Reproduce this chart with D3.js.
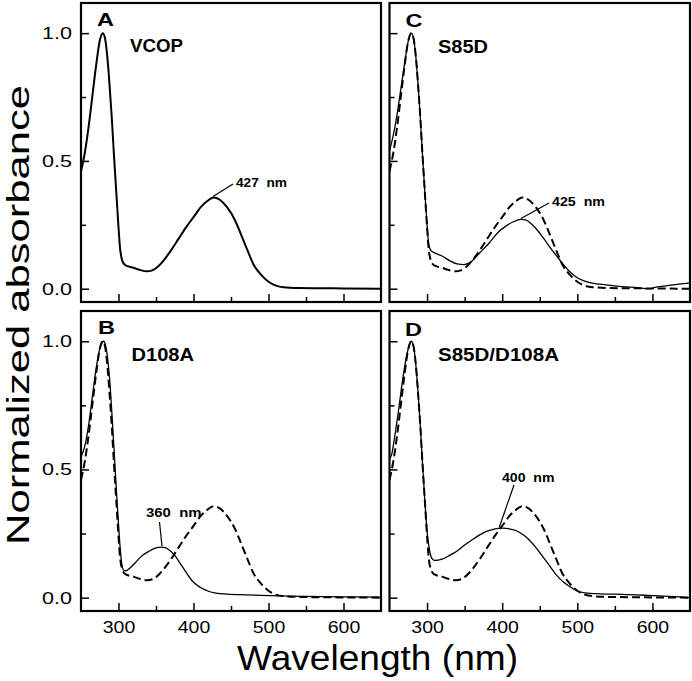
<!DOCTYPE html>
<html><head><meta charset="utf-8">
<script src="https://cdn.jsdelivr.net/npm/d3@7"></script>
<style>
html,body{margin:0;padding:0;background:#fff;}
svg{display:block;font-family:"Liberation Sans",Arial,Helvetica,sans-serif;}
</style>
</head><body>
<svg id="chart" width="692" height="681"></svg>
<script>
// ---------------- DATA ----------------
// Reference spectrum: wild-type VCOP (solid in A, dashed in B, C, D)
const vcopWl  = [250,255,260,265,270,275,279,282,285,288,291,294,297,300,302,305,308,312,320,328,338,345,352,360,370,380,390,400,410,418,427,435,445,455,463,472,480,490,500,510,520,540,600,650];
const vcopAbs = [0.46,0.53,0.63,0.75,0.87,0.97,1.0,0.98,0.91,0.80,0.67,0.52,0.38,0.24,0.16,0.11,0.095,0.088,0.082,0.074,0.068,0.072,0.085,0.11,0.15,0.195,0.24,0.28,0.32,0.342,0.357,0.348,0.318,0.27,0.215,0.15,0.095,0.055,0.027,0.012,0.006,0.003,0.001,0.0];

// D108A mutant (panel B)
const d108aWl  = [250,255,260,265,270,275,280,283,286,289,292,295,298,301,304,307,310,315,322,330,340,350,357,362,368,375,382,390,397,404,412,420,430,445,470,500,550,600,650];
const d108aAbs = [0.55,0.59,0.67,0.78,0.89,0.97,1.0,0.98,0.92,0.82,0.68,0.53,0.38,0.24,0.14,0.107,0.105,0.115,0.135,0.16,0.18,0.194,0.197,0.195,0.185,0.165,0.135,0.10,0.07,0.05,0.035,0.025,0.018,0.014,0.011,0.008,0.005,0.003,0.002];

// S85D mutant (panel C)
const s85dWl  = [250,255,260,265,270,275,279,282,285,288,291,294,297,300,302,305,310,320,330,340,349,358,370,383,395,405,415,425,432,440,448,455,463,472,480,488,498,508,520,538,560,580,595,605,620,635,650];
const s85dAbs = [0.54,0.60,0.68,0.78,0.88,0.97,1.0,0.98,0.91,0.80,0.67,0.52,0.38,0.25,0.18,0.15,0.14,0.128,0.11,0.097,0.094,0.104,0.14,0.18,0.222,0.245,0.262,0.271,0.268,0.25,0.225,0.198,0.165,0.13,0.10,0.072,0.047,0.032,0.022,0.015,0.008,0.004,0.0,0.006,0.012,0.018,0.023];

// S85D/D108A double mutant (panel D)
const dblWl  = [250,253,257,262,268,274,279,282,285,288,291,294,297,300,303,306,310,320,330,339,350,361,372,383,392,401,410,419,428,436,445,454,463,472,481,490,500,510,530,560,600,630,650];
const dblAbs = [0.54,0.56,0.63,0.73,0.86,0.96,1.0,0.98,0.91,0.80,0.67,0.52,0.38,0.26,0.19,0.155,0.145,0.15,0.165,0.18,0.205,0.228,0.248,0.262,0.269,0.271,0.268,0.261,0.245,0.225,0.195,0.16,0.125,0.089,0.062,0.043,0.026,0.019,0.015,0.013,0.008,0.004,0.0];

const xDomain = [250, 650];
const yDomain = [-0.052, 1.118];
const xMajorTicks = [300, 400, 500, 600];
const xMinorTicks = [350, 450, 550];
const yMajorTicks = [0, 0.5, 1.0];
const yMinorTicks = [0.25, 0.75];

const panelLetters = ["A", "B", "C", "D"];
const panelNames   = ["VCOP", "D108A", "S85D", "S85D/D108A"];
const peakLabels   = ["427  nm", "360  nm", "425  nm", "400  nm"];
const peakWl       = [426, 358, 425, 396];
const peakAbs      = [0.357, 0.197, 0.271, 0.270];

const xTitle = "Wavelength (nm)";
const yTitle = "Normalized absorbance";

// ---------------- LAYOUT ----------------
const svg = d3.select("#chart");
svg.append("rect").attr("width", 692).attr("height", 681).attr("fill", "#fff");

const panels = [
  {x0: 81,    x1: 381, y0: 3,   y1: 302, main: [vcopWl, vcopAbs],   ref: null, xl: false, yl: true,
   letter: [97, 26],  name: [130, 52],  lab: [236, 187], lead: [233, 184]},
  {x0: 81,    x1: 381, y0: 311, y1: 611, main: [d108aWl, d108aAbs], ref: true, xl: true,  yl: true,
   letter: [98, 334], name: [131.5, 361], lab: [146, 517], lead: [159.5, 522]},
  {x0: 389.5, x1: 690, y0: 3,   y1: 302, main: [s85dWl, s85dAbs],   ref: true, xl: false, yl: false,
   letter: [405.5, 27], name: [438, 53], lab: [552, 206], lead: [549, 203]},
  {x0: 389.5, x1: 690, y0: 311, y1: 611, main: [dblWl, dblAbs],     ref: true, xl: true,  yl: false,
   letter: [405, 336], name: [438, 361], lab: [502, 482], lead: [514, 485]}
];

const defs = svg.append("defs");

panels.forEach((p, i) => {
  const x = d3.scaleLinear().domain(xDomain).range([p.x0, p.x1]);
  const y = d3.scaleLinear().domain(yDomain).range([p.y1, p.y0]);
  const g = svg.append("g");

  defs.append("clipPath").attr("id", "clip" + i)
    .append("rect").attr("x", p.x0).attr("y", p.y0)
    .attr("width", p.x1 - p.x0).attr("height", p.y1 - p.y0);

  const line = d3.line()
    .x(d => x(d[0])).y(d => y(d[1]))
    .curve(d3.curveMonotoneX);

  const plot = g.append("g").attr("clip-path", `url(#clip${i})`);
  if (p.ref) {
    plot.append("path")
      .datum(d3.zip(vcopWl, vcopAbs))
      .attr("d", line).attr("fill", "none").attr("stroke", "#000")
      .attr("stroke-width", 2).attr("stroke-dasharray", "8,4");
  }
  plot.append("path")
    .datum(d3.zip(p.main[0], p.main[1]))
    .attr("d", line).attr("fill", "none").attr("stroke", "#000")
    .attr("stroke-width", p.ref ? 1.3 : 2);

  // axes (inward ticks)
  const yAx = d3.axisLeft(y).tickValues(yMajorTicks).tickSize(-8).tickPadding(9)
    .tickFormat(p.yl ? d3.format(".1f") : "");
  const yAxMinor = d3.axisLeft(y).tickValues(yMinorTicks).tickSize(-5).tickFormat("");
  const xAx = d3.axisBottom(x).tickValues(xMajorTicks).tickSize(-8).tickPadding(10)
    .tickFormat(p.xl ? d3.format("d") : "");
  const xAxMinor = d3.axisBottom(x).tickValues(xMinorTicks).tickSize(-5).tickFormat("");

  [[yAx, `translate(${p.x0},0)`], [yAxMinor, `translate(${p.x0},0)`],
   [xAx, `translate(0,${p.y1})`], [xAxMinor, `translate(0,${p.y1})`]].forEach(([ax, tr]) => {
    const a = g.append("g").attr("transform", tr).call(ax);
    a.select(".domain").remove();
    a.selectAll("line").attr("stroke", "#000").attr("stroke-width", 1.5);
    a.selectAll("text").attr("font-family", "Liberation Sans, Arial, sans-serif")
      .attr("font-size", 17).attr("fill", "#000");
  });
  g.selectAll(".tick text").filter(function(){ return this.textContent !== ""; })
    .attr("textLength", function(){ return this.textContent.length === 3 && this.textContent.indexOf(".") > 0 ? 30 : 32.5; })
    .attr("lengthAdjust", "spacingAndGlyphs");

  // border
  g.append("rect").attr("x", p.x0).attr("y", p.y0)
    .attr("width", p.x1 - p.x0).attr("height", p.y1 - p.y0)
    .attr("fill", "none").attr("stroke", "#000").attr("stroke-width", 2.2);

  // panel letter
  g.append("text").attr("x", p.letter[0]).attr("y", p.letter[1])
    .attr("font-size", 19).attr("font-weight", "bold")
    .attr("textLength", 17).attr("lengthAdjust", "spacingAndGlyphs")
    .text(panelLetters[i]);

  // panel name
  const nameW = [53, 62.5, 50, 121][i];
  g.append("text").attr("x", p.name[0]).attr("y", p.name[1])
    .attr("font-size", 19).attr("font-weight", "bold")
    .attr("textLength", nameW).attr("lengthAdjust", "spacingAndGlyphs")
    .text(panelNames[i]);

  // peak annotation
  const labW = [51, 55.5, 53, 52.5][i];
  g.append("text").attr("x", p.lab[0]).attr("y", p.lab[1])
    .attr("font-size", 13.5).attr("font-weight", "bold")
    .attr("xml:space", "preserve").style("white-space", "pre")
    .attr("textLength", labW).attr("lengthAdjust", "spacingAndGlyphs")
    .text(peakLabels[i]);
  g.append("line")
    .attr("x1", p.lead[0]).attr("y1", p.lead[1])
    .attr("x2", x(peakWl[i])).attr("y2", y(peakAbs[i]) - 1)
    .attr("stroke", "#000").attr("stroke-width", 1.2);
});

// axis titles
svg.append("text")
  .attr("x", 377.5).attr("y", 670)
  .attr("text-anchor", "middle")
  .attr("font-size", 35)
  .attr("textLength", 281).attr("lengthAdjust", "spacingAndGlyphs")
  .text(xTitle);

svg.append("text")
  .attr("transform", "translate(29,315) rotate(-90)")
  .attr("text-anchor", "middle")
  .attr("font-size", 32)
  .attr("textLength", 460).attr("lengthAdjust", "spacingAndGlyphs")
  .text(yTitle);
</script>
</body></html>
